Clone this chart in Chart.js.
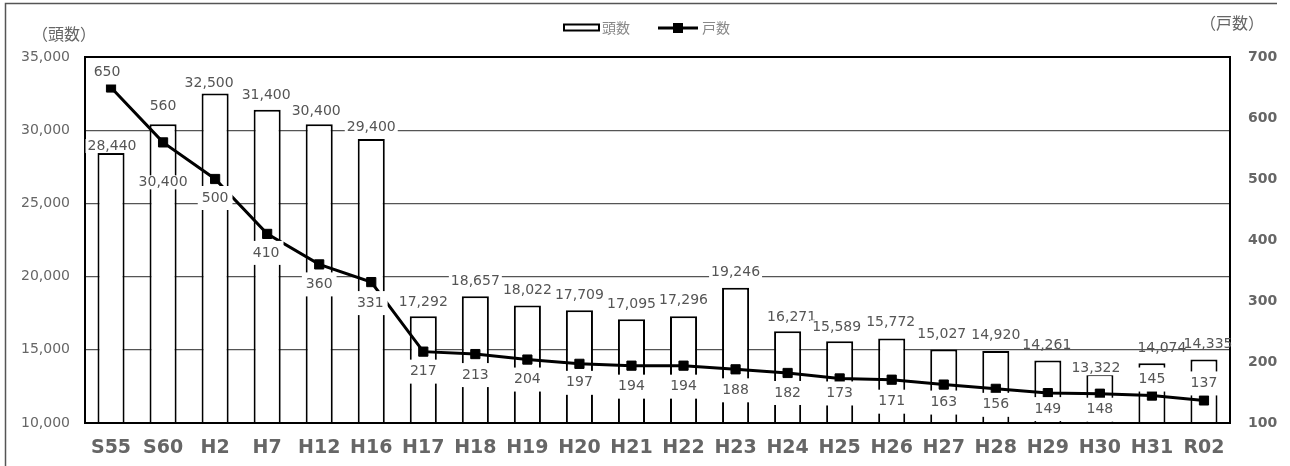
<!DOCTYPE html>
<html lang="ja">
<head>
<meta charset="utf-8">
<title>頭数・戸数の推移</title>
<script src="https://cdn.jsdelivr.net/npm/chart.js@4/dist/chart.umd.min.js"></script>
<style>
  html, body { margin: 0; padding: 0; background: #fff; }
  canvas { display: block; }
</style>
</head>
<body>
<canvas id="chart" width="1290" height="466"></canvas>
<script>
// 年次
const years = ['S55', 'S60', 'H2', 'H7', 'H12', 'H16', 'H17', 'H18', 'H19', 'H20', 'H21',
  'H22', 'H23', 'H24', 'H25', 'H26', 'H27', 'H28', 'H29', 'H30', 'H31', 'R02'];
// 頭数（棒）
const heads = [28440, 30400, 32500, 31400, 30400, 29400, 17292, 18657, 18022, 17709, 17095,
  17296, 19246, 16271, 15589, 15772, 15027, 14920, 14261, 13322, 14074, 14335];
// 戸数（折れ線）
const farms = [650, 560, 500, 410, 360, 331, 217, 213, 204, 197, 194,
  194, 188, 182, 173, 171, 163, 156, 149, 148, 145, 137];
// 目盛
const headTicks = [10000, 15000, 20000, 25000, 30000, 35000];
const farmTicks = [100, 200, 300, 400, 500, 600, 700];

// ラベル配置（棒の上端・マーカーからのずれ、px）
const headLabelShift = [
  [1, -7], [0, 58], [-6, -10], [-1, -14], [-3, -13], [0, -12], [0, -14], [0, -15], [0, -15],
  [0, -15], [0, -15], [0, -16], [0, -15], [4, -14], [-3, -14], [-1, -16], [-2, -15], [0, -16],
  [-1, -15], [-4, -6], [10, -15], [4, -15]
];
const headLabelPlain = new Set([18, 20, 21]);
const farmLabelShift = [
  [-4, -15], [0, -36], [0, 19], [-1, 19], [0, 20], [-1, 21], [0, 20], [0, 21], [0, 20],
  [0, 19], [0, 21], [0, 21], [0, 21], [0, 20], [0, 15], [0, 22], [0, 18], [0, 16],
  [0, 16], [0, 16], [0, -16], [0, -17]
];

const fmt = v => v.toLocaleString('en-US');
const GRAY = '#666';
const LABEL_FONT = '14px "DejaVu Sans"';
const CJK = '"Noto Sans CJK JP"';

// 外枠・軸見出し・凡例
const decorPlugin = {
  id: 'decor',
  beforeDraw(chart) {
    const ctx = chart.ctx;
    ctx.save();
    ctx.strokeStyle = '#555';
    ctx.lineWidth = 1.5;
    ctx.beginPath();
    ctx.moveTo(5.5, 466);
    ctx.lineTo(5.5, 3.5);
    ctx.lineTo(1277, 3.5);
    ctx.stroke();
    ctx.restore();
  },
  afterDraw(chart) {
    const ctx = chart.ctx;
    ctx.save();
    ctx.fillStyle = GRAY;
    ctx.font = '16px ' + CJK;
    ctx.textBaseline = 'middle';
    ctx.textAlign = 'center';
    ctx.fillText('（頭数）', 64, 34);
    ctx.fillText('（戸数）', 1232, 23);

    // 凡例
    const ds = chart.data.datasets;
    ctx.font = '14px ' + CJK;
    ctx.textAlign = 'left';
    ctx.strokeStyle = '#000';
    ctx.lineWidth = 2;
    ctx.fillStyle = '#fff';
    ctx.fillRect(564, 24.5, 35, 6);
    ctx.strokeRect(564, 24.5, 35, 6);
    ctx.fillStyle = '#888';
    ctx.fillText(ds[0].label, 602, 28);
    ctx.lineWidth = 3;
    ctx.beginPath();
    ctx.moveTo(658, 28);
    ctx.lineTo(698, 28);
    ctx.stroke();
    ctx.fillStyle = '#000';
    ctx.fillRect(673, 23, 10, 10);
    ctx.fillStyle = '#888';
    ctx.fillText(ds[1].label, 702, 28);
    ctx.restore();
  }
};

// 描画領域の枠と数値ラベル
const valuePlugin = {
  id: 'values',
  afterDatasetsDraw(chart) {
    const ctx = chart.ctx;
    const a = chart.chartArea;
    ctx.save();
    ctx.strokeStyle = '#000';
    ctx.lineWidth = 2;
    ctx.strokeRect(a.left, a.top, a.right - a.left, a.bottom - a.top);

    ctx.font = LABEL_FONT;
    ctx.textAlign = 'center';
    ctx.textBaseline = 'middle';

    const drawLabel = (text, cx, cy, padX, padY, boxed) => {
      const w = ctx.measureText(text).width;
      if (boxed) {
        ctx.fillStyle = '#fff';
        ctx.fillRect(cx - w / 2 - padX, cy - 5 - padY, w + 2 * padX, 10 + 2 * padY);
      }
      ctx.fillStyle = '#555';
      ctx.fillText(text, cx, cy);
    };

    const barMeta = chart.getDatasetMeta(0);
    barMeta.data.forEach((el, i) => {
      const [dx, dy] = headLabelShift[i];
      drawLabel(fmt(heads[i]), el.x + dx, el.y + dy, 2, 2, !headLabelPlain.has(i));
    });
    const lineMeta = chart.getDatasetMeta(1);
    lineMeta.data.forEach((el, i) => {
      const [dx, dy] = farmLabelShift[i];
      drawLabel(fmt(farms[i]), el.x + dx, el.y + dy, 4, 7, true);
    });
    ctx.restore();
  }
};

new Chart(document.getElementById('chart'), {
  data: {
    labels: years,
    datasets: [
      {
        type: 'bar',
        label: '頭数',
        data: heads,
        yAxisID: 'y',
        backgroundColor: '#fff',
        borderColor: '#000',
        borderWidth: 2,
        barPercentage: 0.52,
        categoryPercentage: 1,
        order: 2
      },
      {
        type: 'line',
        label: '戸数',
        data: farms,
        yAxisID: 'y1',
        borderColor: '#000',
        borderWidth: 3,
        pointStyle: 'rect',
        pointRadius: 6.5,
        pointBackgroundColor: '#000',
        pointBorderColor: '#000',
        pointBorderWidth: 1,
        tension: 0,
        order: 1
      }
    ]
  },
  options: {
    responsive: false,
    animation: false,
    devicePixelRatio: 1,
    layout: { padding: { top: 57, left: 0, right: 0, bottom: 0 } },
    plugins: {
      legend: { display: false },
      tooltip: { enabled: false },
      title: { display: false }
    },
    scales: {
      x: {
        grid: { display: false },
        border: { display: false },
        ticks: {
          color: GRAY,
          font: { family: 'DejaVu Sans', size: 19, weight: 'bold' },
          padding: 6,
          maxRotation: 0,
          autoSkip: false
        },
        afterFit(s) { s.height = 43; }
      },
      y: {
        position: 'left',
        min: headTicks[0],
        max: headTicks[headTicks.length - 1],
        afterBuildTicks(s) { s.ticks = headTicks.map(v => ({ value: v })); },
        grid: { color: '#555', lineWidth: 1.3, drawTicks: false },
        border: { display: false },
        ticks: {
          color: GRAY,
          font: { family: 'DejaVu Sans', size: 14 },
          padding: 15,
          callback: v => fmt(v)
        },
        afterFit(s) { s.width = 85; }
      },
      y1: {
        position: 'right',
        min: farmTicks[0],
        max: farmTicks[farmTicks.length - 1],
        afterBuildTicks(s) { s.ticks = farmTicks.map(v => ({ value: v })); },
        grid: { display: false, drawTicks: false },
        border: { display: false },
        ticks: {
          color: GRAY,
          font: { family: 'DejaVu Sans', size: 14, weight: 'bold' },
          padding: 18
        },
        afterFit(s) { s.width = 60; }
      }
    }
  },
  plugins: [decorPlugin, valuePlugin]
});
</script>
</body>
</html>
